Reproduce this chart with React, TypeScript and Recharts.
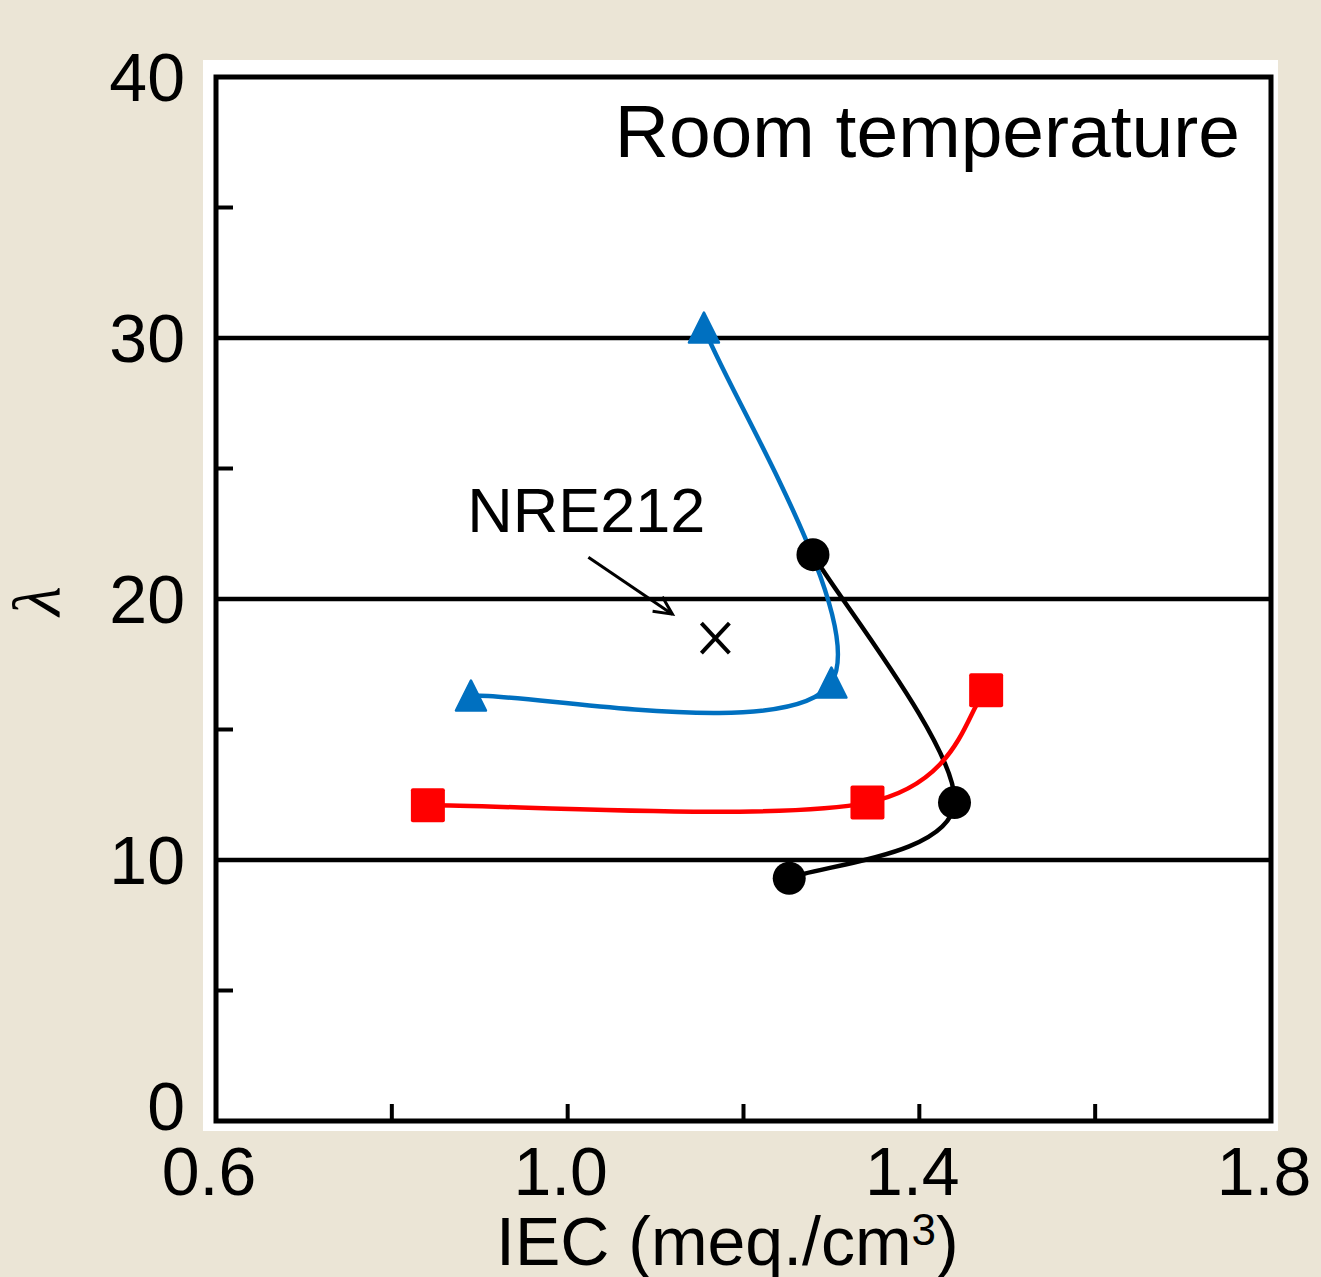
import { ComposedChart, Customized, Line, ReferenceArea, ReferenceLine, Scatter, XAxis, YAxis } from "recharts";

// λ vs IEC, room temperature
const blackSeries = [
    { x: 1.279, y: 21.7 },
    { x: 1.44, y: 12.2 },
    { x: 1.252, y: 9.3 },
];
const redSeries = [
    { x: 0.841, y: 12.1 },
    { x: 1.341, y: 12.2 },
    { x: 1.476, y: 16.5 },
];
const blueSeries = [
    { x: 0.89, y: 16.3 },
    { x: 1.3, y: 16.8 },
    { x: 1.155, y: 30.4 },
];
const nre212 = [{ x: 1.168, y: 18.5 }];

const xTicks = [0.6, 0.8, 1.0, 1.2, 1.4, 1.6, 1.8];
const xLabelled = [0.6, 1.0, 1.4, 1.8];
const yTicks = [0, 5, 10, 15, 20, 25, 30, 35, 40];
const gridValues = [10, 20, 30];

const FONT = '"Liberation Sans", Arial, sans-serif';
const BEIGE = "#ebe5d6";
const BLUE = "#0070c0";
const RED = "#ff0000";

// excel-like smoothed line (catmull-rom as beziers)
const smoothCurve = (context: any) => {
    let pts: number[][] = [];
    return {
        areaStart() {},
        areaEnd() {},
        lineStart() {
            pts = [];
        },
        point(x: number, y: number) {
            pts.push([+x, +y]);
        },
        lineEnd() {
            const n = pts.length;
            if (!n) return;
            context.moveTo(pts[0][0], pts[0][1]);
            for (let i = 0; i < n - 1; i++) {
                const p0 = pts[i === 0 ? 0 : i - 1];
                const p1 = pts[i];
                const p2 = pts[i + 1];
                const p3 = pts[i + 2 < n ? i + 2 : n - 1];
                context.bezierCurveTo(
                    p1[0] + (p2[0] - p0[0]) / 6,
                    p1[1] + (p2[1] - p0[1]) / 6,
                    p2[0] - (p3[0] - p1[0]) / 6,
                    p2[1] - (p3[1] - p1[1]) / 6,
                    p2[0],
                    p2[1]
                );
            }
        },
    };
};

const XTick = (props: any) => {
    const { x, y, payload } = props;
    const v = payload.value;
    return (
        <g>
            <line x1={x} y1={y} x2={x} y2={y - 17} stroke="#000" strokeWidth={4} />
            {xLabelled.some((t) => Math.abs(t - v) < 1e-6) && (
                <text x={x - 7} y={y + 26} dy="0.71em" textAnchor="middle" fontSize={68} fontFamily={FONT} fill="#000">
                    {v.toFixed(1)}
                </text>
            )}
        </g>
    );
};

const YTick = (props: any) => {
    const { x, y, payload } = props;
    const v = payload.value;
    const major = v % 10 === 0;
    return (
        <g>
            {!major && <line x1={x} y1={y} x2={x + 17} y2={y} stroke="#000" strokeWidth={4} />}
            {major && (
                <text x={x - 31} y={y + (v === 0 ? -15 : 0)} dy="0.355em" textAnchor="end" fontSize={68} fontFamily={FONT} fill="#000">
                    {v}
                </text>
            )}
        </g>
    );
};

const circleDot = (p: any) => <circle key={`c${p.index}`} cx={p.cx} cy={p.cy} r={16.5} fill="#000" />;
const squareDot = (p: any) => (
    <rect key={`s${p.index}`} x={p.cx - 17} y={p.cy - 17} width={34} height={34} rx={2} fill={RED} />
);
const triangleDot = (p: any) => (
    <polygon
        key={`t${p.index}`}
        points={`${p.cx},${p.cy - 15} ${p.cx + 15},${p.cy + 15} ${p.cx - 15},${p.cy + 15}`}
        fill={BLUE}
        stroke={BLUE}
        strokeWidth={2.5}
        strokeLinejoin="round"
    />
);

// × marker with its "NRE212" callout
const CrossShape = (props: any) => {
    const { cx, cy } = props;
    const sx = cx - 127, sy = cy - 81;
    const ex = cx - 43, ey = cy - 24;
    const ang = Math.atan2(ey - sy, ex - sx);
    const wing = (a: number) => `${ex - 20 * Math.cos(ang + a)},${ey - 20 * Math.sin(ang + a)}`;
    return (
        <g>
            <line x1={cx - 14} y1={cy - 15} x2={cx + 14} y2={cy + 15} stroke="#000" strokeWidth={4} />
            <line x1={cx - 14} y1={cy + 15} x2={cx + 14} y2={cy - 15} stroke="#000" strokeWidth={4} />
            <line x1={sx} y1={sy} x2={ex} y2={ey} stroke="#000" strokeWidth={3} />
            <polyline points={`${wing(0.45)} ${ex},${ey} ${wing(-0.45)}`} fill="none" stroke="#000" strokeWidth={3} />
            <text x={cx - 129} y={cy - 106} textAnchor="middle" fontSize={63} fontFamily={FONT} fill="#000">
                NRE212
            </text>
        </g>
    );
};

const Annotations = () => (
    <g fontFamily={FONT} fill="#000">
        <text x={1240} y={157} textAnchor="end" fontSize={75}>
            Room temperature
        </text>
        <text x={496} y={1265} fontSize={68}>
            IEC (meq./cm
            <tspan dy={-20} fontSize={44}>3</tspan>
            <tspan dy={20}>)</tspan>
        </text>
        <text
            transform="translate(60,601) rotate(-90)"
            textAnchor="middle"
            fontSize={68}
            fontStyle="italic"
            fontFamily='"Liberation Serif", "DejaVu Serif", serif'
        >
            λ
        </text>
    </g>
);

const App = () => {
    return (
        <div style={{ position: "absolute", left: 0, top: 0, width: 1321, height: 1277, background: BEIGE }}>
            <div style={{ position: "absolute", left: 203, top: 60, width: 1075, height: 1071, background: "#fff" }} />
            <div style={{ position: "absolute", left: 0, top: 0 }}>
                <ComposedChart width={1321} height={1277} margin={{ top: 77, right: 50, bottom: 126, left: 116 }}>
                    <XAxis
                        type="number"
                        dataKey="x"
                        domain={[0.6, 1.8]}
                        ticks={xTicks}
                        interval={0}
                        tick={<XTick />}
                        tickSize={0}
                        tickMargin={0}
                        tickLine={false}
                        axisLine={false}
                        height={30}
                    />
                    <YAxis
                        type="number"
                        dataKey="y"
                        domain={[0, 40]}
                        ticks={yTicks}
                        interval={0}
                        tick={<YTick />}
                        tickSize={0}
                        tickMargin={0}
                        tickLine={false}
                        axisLine={false}
                        width={100}
                    />
                    {gridValues.map((v) => (
                        <ReferenceLine key={v} y={v} stroke="#000" strokeWidth={4.5} />
                    ))}
                    <ReferenceArea x1={0.6} x2={1.8} y1={0} y2={40} fill="none" stroke="#000" strokeWidth={5} />
                    <Line
                        data={blackSeries}
                        dataKey="y"
                        type={smoothCurve as any}
                        stroke="#000"
                        strokeWidth={4.5}
                        dot={circleDot}
                        activeDot={false}
                        isAnimationActive={false}
                    />
                    <Line
                        data={redSeries}
                        dataKey="y"
                        type={smoothCurve as any}
                        stroke={RED}
                        strokeWidth={4.5}
                        dot={squareDot}
                        activeDot={false}
                        isAnimationActive={false}
                    />
                    <Line
                        data={blueSeries}
                        dataKey="y"
                        type={smoothCurve as any}
                        stroke={BLUE}
                        strokeWidth={4.5}
                        dot={triangleDot}
                        activeDot={false}
                        isAnimationActive={false}
                    />
                    <Scatter data={nre212} dataKey="y" shape={<CrossShape />} isAnimationActive={false} />
                    <Customized component={<Annotations />} />
                </ComposedChart>
            </div>
        </div>
    );
};

export default App;
